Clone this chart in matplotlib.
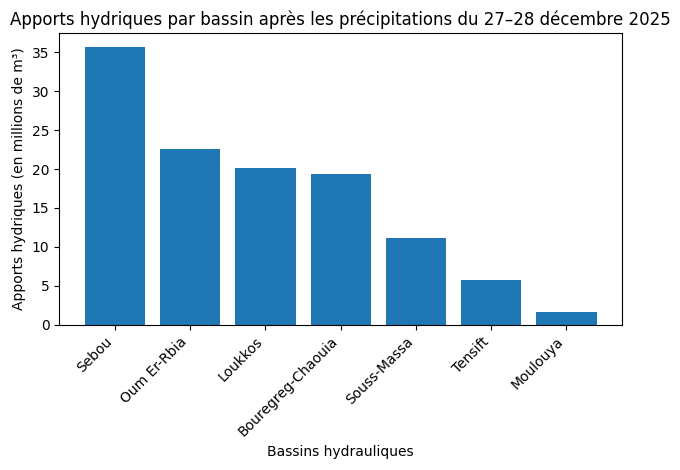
import matplotlib
matplotlib.use("Agg")
import matplotlib.pyplot as plt

bassins = ["Sebou", "Oum Er-Rbia", "Loukkos", "Bouregreg-Chaouia",
           "Souss-Massa", "Tensift", "Moulouya"]
apports = [35.7, 22.6, 20.1, 19.3, 11.2, 5.8, 1.7]

fig, ax = plt.subplots(figsize=(6.8, 4.7), dpi=100)
ax.bar(bassins, apports, color="#1f77b4")
ax.set_title("Apports hydriques par bassin après les précipitations du 27–28 décembre 2025")
ax.set_xlabel("Bassins hydrauliques")
ax.set_ylabel("Apports hydriques (en millions de m³)")
plt.xticks(rotation=45, ha="right")
fig.subplots_adjust(left=0.087, right=0.915, top=0.93, bottom=0.309)
plt.savefig("out.png")
